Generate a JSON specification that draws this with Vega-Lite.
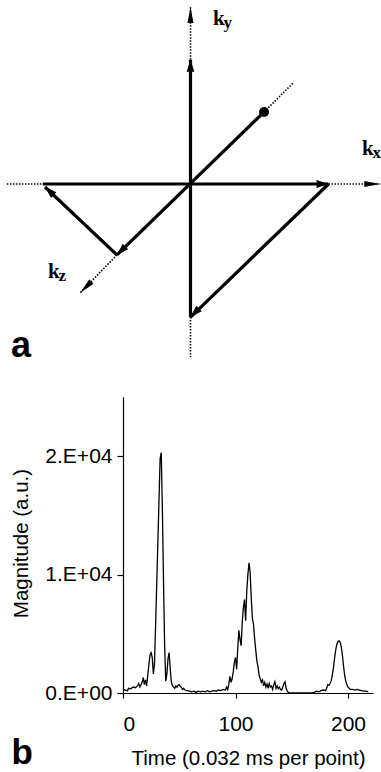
{
  "$schema": "https://vega.github.io/schema/vega-lite/v6.json",
  "width": 381,
  "height": 772,
  "autosize": "none",
  "padding": 0,
  "background": "white",
  "config": {"view": {"stroke": null}, "font": "Liberation Sans"},
  "datasets": {
    "segments": [
      {"kind": "axis", "x": -1.33, "y": 0, "x2": -1.07, "y2": 0},
      {"kind": "axis", "x": 1.0, "y": 0, "x2": 1.375, "y2": 0, "dir": "right"},
      {"kind": "axis", "x": 0, "y": 0.9, "x2": 0, "y2": 1.283, "dir": "up"},
      {"kind": "axis", "x": 0, "y": -0.964, "x2": 0, "y2": -1.254},
      {"kind": "axis", "x": 0.533, "y": 0.522, "x2": 0.743, "y2": 0.732},
      {"kind": "axis", "x": -0.533, "y": -0.514, "x2": -0.8, "y2": -0.79, "dir": "down-left"},
      {"kind": "path", "x": 0, "y": 0, "x2": 0, "y2": 0.9, "dir": "up"},
      {"kind": "path", "x": -1.07, "y": 0, "x2": 1.0, "y2": 0, "dir": "right"},
      {"kind": "path", "x": 0.533, "y": 0.522, "x2": -0.533, "y2": -0.514, "dir": "down-left"},
      {"kind": "path", "x": -0.533, "y": -0.514, "x2": -1.054, "y2": -0.022, "dir": "up-left"},
      {"kind": "path", "x": 1.0, "y": 0, "x2": 0, "y2": -0.964, "dir": "down-left"},
      {"kind": "path", "x": 0, "y": 0, "x2": 0, "y2": -0.964}
    ],
    "labels": [
      {"x": 0.163, "y": 1.152, "k": "k", "sub": "y"},
      {"x": 1.243, "y": 0.21, "k": "k", "sub": "x"},
      {"x": -1.033, "y": -0.681, "k": "k", "sub": "z"}
    ],
    "signal": [
      {"t": 0, "m": 300}, {"t": 2, "m": 250}, {"t": 4, "m": 200}, {"t": 5, "m": 400}, {"t": 7, "m": 350},
      {"t": 9, "m": 500}, {"t": 11, "m": 450}, {"t": 13, "m": 600}, {"t": 14, "m": 800}, {"t": 15, "m": 500},
      {"t": 16, "m": 700}, {"t": 17, "m": 900}, {"t": 18, "m": 1300}, {"t": 19, "m": 700}, {"t": 20, "m": 1100},
      {"t": 21, "m": 600}, {"t": 22, "m": 1500}, {"t": 23, "m": 2400}, {"t": 24, "m": 3200}, {"t": 25, "m": 3400},
      {"t": 26, "m": 3000}, {"t": 27, "m": 1600}, {"t": 28, "m": 2500}, {"t": 29, "m": 5800}, {"t": 30, "m": 9300},
      {"t": 31, "m": 12800}, {"t": 32, "m": 16300}, {"t": 33, "m": 19800}, {"t": 34, "m": 20300}, {"t": 35, "m": 15500},
      {"t": 36, "m": 9500}, {"t": 37, "m": 4000}, {"t": 38, "m": 1000}, {"t": 39, "m": 1600}, {"t": 40, "m": 2900},
      {"t": 41, "m": 3400}, {"t": 42, "m": 2000}, {"t": 43, "m": 900}, {"t": 44, "m": 600}, {"t": 45, "m": 500},
      {"t": 46, "m": 400}, {"t": 47, "m": 600}, {"t": 48, "m": 500}, {"t": 49, "m": 650}, {"t": 50, "m": 700},
      {"t": 51, "m": 550}, {"t": 52, "m": 450}, {"t": 53, "m": 300}, {"t": 54, "m": 400}, {"t": 55, "m": 250},
      {"t": 57, "m": 200}, {"t": 59, "m": 150}, {"t": 61, "m": 100}, {"t": 63, "m": 150}, {"t": 65, "m": 50},
      {"t": 67, "m": 150}, {"t": 69, "m": 100}, {"t": 71, "m": 150}, {"t": 73, "m": 100}, {"t": 75, "m": 200},
      {"t": 77, "m": 100}, {"t": 79, "m": 150}, {"t": 81, "m": 200}, {"t": 83, "m": 150}, {"t": 85, "m": 250},
      {"t": 87, "m": 200}, {"t": 89, "m": 300}, {"t": 91, "m": 250}, {"t": 92, "m": 500}, {"t": 93, "m": 300},
      {"t": 94, "m": 700}, {"t": 95, "m": 1400}, {"t": 96, "m": 900}, {"t": 97, "m": 1200}, {"t": 98, "m": 1800},
      {"t": 99, "m": 2600}, {"t": 100, "m": 3000}, {"t": 101, "m": 2000}, {"t": 102, "m": 3800}, {"t": 103, "m": 5300},
      {"t": 104, "m": 4500}, {"t": 105, "m": 4000}, {"t": 106, "m": 6000}, {"t": 107, "m": 7200}, {"t": 108, "m": 7900},
      {"t": 109, "m": 6100}, {"t": 110, "m": 8600}, {"t": 111, "m": 10000}, {"t": 112, "m": 11000}, {"t": 113, "m": 10200},
      {"t": 114, "m": 8000}, {"t": 115, "m": 6300}, {"t": 116, "m": 5800}, {"t": 117, "m": 4600}, {"t": 118, "m": 3600},
      {"t": 119, "m": 2700}, {"t": 120, "m": 2200}, {"t": 121, "m": 1500}, {"t": 122, "m": 1200}, {"t": 123, "m": 900},
      {"t": 124, "m": 1100}, {"t": 125, "m": 600}, {"t": 126, "m": 900}, {"t": 127, "m": 500}, {"t": 128, "m": 750},
      {"t": 129, "m": 400}, {"t": 130, "m": 800}, {"t": 131, "m": 500}, {"t": 132, "m": 600}, {"t": 133, "m": 300},
      {"t": 134, "m": 700}, {"t": 135, "m": 950}, {"t": 136, "m": 400}, {"t": 137, "m": 600}, {"t": 138, "m": 350},
      {"t": 139, "m": 500}, {"t": 140, "m": 300}, {"t": 141, "m": 250}, {"t": 142, "m": 500}, {"t": 143, "m": 800},
      {"t": 144, "m": 950}, {"t": 145, "m": 400}, {"t": 146, "m": 150}, {"t": 147, "m": 50}, {"t": 148, "m": 0},
      {"t": 152, "m": 0}, {"t": 156, "m": 10}, {"t": 160, "m": 0}, {"t": 164, "m": 10}, {"t": 168, "m": 0},
      {"t": 170, "m": 50}, {"t": 172, "m": 150}, {"t": 174, "m": 100}, {"t": 176, "m": 200}, {"t": 178, "m": 250},
      {"t": 180, "m": 200}, {"t": 181, "m": 400}, {"t": 182, "m": 700}, {"t": 183, "m": 650}, {"t": 184, "m": 800},
      {"t": 185, "m": 1000}, {"t": 186, "m": 1500}, {"t": 187, "m": 2100}, {"t": 188, "m": 2900}, {"t": 189, "m": 3600},
      {"t": 190, "m": 4100}, {"t": 191, "m": 4350}, {"t": 192, "m": 4400}, {"t": 193, "m": 4300}, {"t": 194, "m": 3900},
      {"t": 195, "m": 3200}, {"t": 196, "m": 2300}, {"t": 197, "m": 1500}, {"t": 198, "m": 1000}, {"t": 199, "m": 700},
      {"t": 200, "m": 500}, {"t": 201, "m": 400}, {"t": 202, "m": 300}, {"t": 204, "m": 300}, {"t": 206, "m": 250},
      {"t": 208, "m": 300}, {"t": 210, "m": 250}, {"t": 212, "m": 200}, {"t": 214, "m": 150}, {"t": 216, "m": 150},
      {"t": 218, "m": 100}
    ]
  },
  "resolve": {"scale": {"x": "independent", "y": "independent"}},
  "layer": [
    {
      "data": {"name": "segments"},
      "transform": [{"filter": "datum.kind == 'axis'"}],
      "mark": {"type": "rule", "color": "black", "strokeWidth": 1.6, "strokeDash": [1.5, 1.5]},
      "encoding": {
        "x": {"field": "x", "type": "quantitative", "axis": null, "scale": {"domain": [-1.38, 1.38], "range": [0, 381], "nice": false, "zero": false}},
        "y": {"field": "y", "type": "quantitative", "axis": null, "scale": {"domain": [-1.3333, 1.3333], "range": [368, 0], "nice": false, "zero": false}},
        "x2": {"field": "x2"},
        "y2": {"field": "y2"}
      }
    },
    {
      "data": {"name": "segments"},
      "transform": [{"filter": "datum.kind == 'path'"}],
      "mark": {"type": "rule", "color": "black", "strokeWidth": 3.2},
      "encoding": {
        "x": {"field": "x", "type": "quantitative", "axis": null, "scale": {"domain": [-1.38, 1.38], "range": [0, 381], "nice": false, "zero": false}},
        "y": {"field": "y", "type": "quantitative", "axis": null, "scale": {"domain": [-1.3333, 1.3333], "range": [368, 0], "nice": false, "zero": false}},
        "x2": {"field": "x2"},
        "y2": {"field": "y2"}
      }
    },
    {
      "data": {"name": "segments"},
      "transform": [{"filter": "datum.kind == 'path' && datum.dir != null"}],
      "mark": {"type": "point", "shape": "M0,0L0.65,2L-0.65,2Z", "filled": true, "color": "black", "opacity": 1, "size": 144, "strokeWidth": 0},
      "encoding": {
        "x": {"field": "x2", "type": "quantitative", "axis": null, "scale": {"domain": [-1.38, 1.38], "range": [0, 381], "nice": false, "zero": false}},
        "y": {"field": "y2", "type": "quantitative", "axis": null, "scale": {"domain": [-1.3333, 1.3333], "range": [368, 0], "nice": false, "zero": false}},
        "angle": {"field": "dir", "type": "nominal", "legend": null, "scale": {"type": "ordinal", "domain": ["up", "right", "down-left", "up-left"], "range": [0, 90, 225, 313]}}
      }
    },
    {
      "data": {"name": "segments"},
      "transform": [{"filter": "datum.kind == 'axis' && datum.dir != null"}],
      "mark": {"type": "point", "shape": "M0,0L0.38,2L-0.38,2Z", "filled": true, "color": "black", "opacity": 1, "size": 256, "strokeWidth": 0},
      "encoding": {
        "x": {"field": "x2", "type": "quantitative", "axis": null, "scale": {"domain": [-1.38, 1.38], "range": [0, 381], "nice": false, "zero": false}},
        "y": {"field": "y2", "type": "quantitative", "axis": null, "scale": {"domain": [-1.3333, 1.3333], "range": [368, 0], "nice": false, "zero": false}},
        "angle": {"field": "dir", "type": "nominal", "legend": null, "scale": {"type": "ordinal", "domain": ["up", "right", "down-left", "up-left"], "range": [0, 90, 225, 313]}}
      }
    },
    {
      "data": {"values": [{"x": 0.533, "y": 0.522}]},
      "mark": {"type": "point", "shape": "circle", "filled": true, "color": "black", "opacity": 1, "size": 100},
      "encoding": {
        "x": {"field": "x", "type": "quantitative", "axis": null, "scale": {"domain": [-1.38, 1.38], "range": [0, 381], "nice": false, "zero": false}},
        "y": {"field": "y", "type": "quantitative", "axis": null, "scale": {"domain": [-1.3333, 1.3333], "range": [368, 0], "nice": false, "zero": false}}
      }
    },
    {
      "data": {"name": "labels"},
      "mark": {"type": "text", "font": "Liberation Serif", "fontWeight": "bold", "fontSize": 21, "align": "left", "baseline": "alphabetic", "color": "black"},
      "encoding": {
        "x": {"field": "x", "type": "quantitative", "axis": null, "scale": {"domain": [-1.38, 1.38], "range": [0, 381], "nice": false, "zero": false}},
        "y": {"field": "y", "type": "quantitative", "axis": null, "scale": {"domain": [-1.3333, 1.3333], "range": [368, 0], "nice": false, "zero": false}},
        "text": {"field": "k"}
      }
    },
    {
      "data": {"name": "labels"},
      "mark": {"type": "text", "font": "Liberation Serif", "fontWeight": "bold", "fontSize": 17, "align": "left", "baseline": "alphabetic", "color": "black", "dx": 10.5, "dy": 3},
      "encoding": {
        "x": {"field": "x", "type": "quantitative", "axis": null, "scale": {"domain": [-1.38, 1.38], "range": [0, 381], "nice": false, "zero": false}},
        "y": {"field": "y", "type": "quantitative", "axis": null, "scale": {"domain": [-1.3333, 1.3333], "range": [368, 0], "nice": false, "zero": false}},
        "text": {"field": "sub"}
      }
    },
    {
      "data": {"values": [{"x": -1.3, "y": -1.254, "letter": "a"}]},
      "mark": {"type": "text", "font": "Liberation Sans", "fontWeight": "bold", "fontSize": 36, "align": "left", "baseline": "alphabetic", "color": "black"},
      "encoding": {
        "x": {"field": "x", "type": "quantitative", "axis": null, "scale": {"domain": [-1.38, 1.38], "range": [0, 381], "nice": false, "zero": false}},
        "y": {"field": "y", "type": "quantitative", "axis": null, "scale": {"domain": [-1.3333, 1.3333], "range": [368, 0], "nice": false, "zero": false}},
        "text": {"field": "letter"}
      }
    },
    {
      "data": {"name": "signal"},
      "mark": {"type": "line", "color": "black", "strokeWidth": 1.3, "interpolate": "linear"},
      "encoding": {
        "x": {
          "field": "t", "type": "quantitative",
          "scale": {"domain": [0, 222.2], "range": [123, 373], "nice": false, "zero": false},
          "axis": {
            "values": [0, 100, 200], "offset": -79, "grid": false,
            "domainColor": "black", "domainWidth": 1.2, "tickColor": "black", "tickWidth": 1.2, "tickSize": 5,
            "labelFont": "Liberation Sans", "labelFontSize": 21, "labelColor": "black", "labelPadding": 15,
            "title": "Time (0.032 ms per point)", "titleFont": "Liberation Sans", "titleFontSize": 20.5, "titleFontWeight": "normal", "titleColor": "black",
            "titleX": 248, "titleY": 71, "titleBaseline": "alphabetic", "titleAlign": "center"
          }
        },
        "y": {
          "field": "m", "type": "quantitative",
          "scale": {"domain": [0, 25000], "range": [693, 397], "nice": false, "zero": false},
          "axis": {
            "values": [0, 10000, 20000], "offset": -123, "grid": false,
            "labelExpr": "datum.value == 0 ? '0.E+00' : format(datum.value / 10000, 'd') + '.E+04'",
            "domainColor": "black", "domainWidth": 1.2, "tickColor": "black", "tickWidth": 1.2, "tickSize": 6,
            "labelFont": "Liberation Sans", "labelFontSize": 21, "labelColor": "black", "labelPadding": 5,
            "title": "Magnitude (a.u.)", "titleFont": "Liberation Sans", "titleFontSize": 20.5, "titleFontWeight": "normal", "titleColor": "black",
            "titleX": -96, "titleY": 543, "titleAngle": -90, "titleBaseline": "alphabetic", "titleAlign": "center"
          }
        }
      }
    },
    {
      "data": {"values": [{"t": -99, "m": -6000, "letter": "b"}]},
      "mark": {"type": "text", "font": "Liberation Sans", "fontWeight": "bold", "fontSize": 35, "align": "left", "baseline": "alphabetic", "color": "black"},
      "encoding": {
        "x": {"field": "t", "type": "quantitative", "axis": null, "scale": {"domain": [0, 222.2], "range": [123, 373], "nice": false, "zero": false}},
        "y": {"field": "m", "type": "quantitative", "axis": null, "scale": {"domain": [0, 25000], "range": [693, 397], "nice": false, "zero": false}},
        "text": {"field": "letter"}
      }
    }
  ]
}
